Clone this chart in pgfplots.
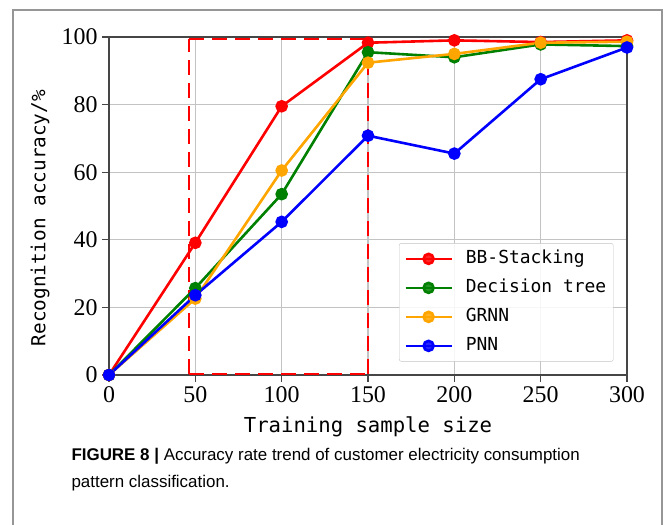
\documentclass[border=0pt]{standalone}
\usepackage{pgfplots}
\pgfplotsset{compat=1.18}
\usepackage{fontspec}
\setmainfont{Liberation Serif}
\newfontfamily\capfont{Liberation Sans}
\newfontfamily\monofont{DejaVu Sans Mono}
\definecolor{spine}{RGB}{70,70,70}
\definecolor{gridc}{RGB}{195,195,195}
\definecolor{frame}{RGB}{150,150,150}
\definecolor{mgreen}{RGB}{0,128,0}
\definecolor{morange}{RGB}{255,165,0}
\definecolor{mred}{RGB}{255,0,0}

\pgfplotstableread{
x    bb    dt    gr    pnn
0    0     0     0     0
50   39.1  25.7  22.6  23.6
100  79.5  53.5  60.5  45.3
150  98.3  95.5  92.4  70.8
200  99.0  94.0  95.0  65.5
250  98.5  97.8  98.3  87.5
300  99.0  97.3  98.6  96.9
}\acc

\begin{document}
\begin{tikzpicture}[x=1bp,y=1bp]
  % page size and outer frame
  \path[use as bounding box] (0,0) rectangle (665,525);
  \draw[frame, line width=1.2bp] (13,-5) -- (13,515) -- (662,515) -- (662,-5);
  \begin{axis}[
    at={(109bp,150bp)}, anchor=south west,
    scale only axis, width=518bp, height=338bp,
    xmin=0, xmax=300, ymin=0, ymax=100,
    xtick={0,50,...,300}, ytick={0,20,...,100},
    grid=major,
    major grid style={gridc, line width=1.1bp},
    axis line style={spine, line width=1.8bp},
    tick style={spine, line width=1.1bp},
    tick align=outside, major tick length=7bp,
    xtick pos=bottom, ytick pos=left,
    ticklabel style={font=\fontsize{24}{24}\selectfont},
    xticklabel style={yshift=-1bp},
    yticklabel style={xshift=-1bp},
    /pgf/number format/assume math mode=true,
    xlabel={\monofont\fontsize{20.7}{21}\selectfont Training sample size},
    ylabel={\monofont\fontsize{19.4}{21}\selectfont Recognition accuracy/\%},
    xlabel style={at={(axis description cs:0.5,-0.154)}, anchor=center},
    ylabel style={at={(axis description cs:-0.133,0.464)}, anchor=center},
    legend style={at={(0.56,0.39)}, anchor=north west,
      font=\monofont\fontsize{18}{22}\selectfont,
      draw=gridc, rounded corners=2bp, fill=white, fill opacity=0.85, text opacity=1,
      inner xsep=5bp, inner ysep=4bp, row sep=6bp, column sep=11bp,
      nodes={inner sep=2bp, text height=14bp, text depth=5bp}},
    legend cell align=left,
    legend image code/.code={
      \draw[mark repeat=2, mark phase=2, #1]
        plot coordinates {(0bp,0bp) (23bp,0bp) (46bp,0bp)};},
    every axis plot/.append style={line width=2.6bp, mark=*, mark size=5bp},
  ]
    % highlighted region
    \draw[mred, line width=2.2bp, dash pattern=on 15bp off 8bp]
      (axis cs:46.5,99.4) -- (axis cs:150.2,99.4);
    \draw[mred, line width=2.2bp, dash pattern=on 15bp off 8bp]
      (axis cs:46.5,0.4) -- (axis cs:150.2,0.4);
    \draw[mred, line width=2.2bp, dash pattern=on 15bp off 8bp]
      (axis cs:46.5,0.4) -- (axis cs:46.5,99.4);
    \draw[mred, line width=2.2bp, dash pattern=on 15bp off 8bp]
      (axis cs:150.2,0.4) -- (axis cs:150.2,99.4);
    \addplot[color=mred, mark options={fill=mred}] table[x=x,y=bb]{\acc};
    \addlegendentry{BB-Stacking}
    \addplot[color=mgreen, mark options={fill=mgreen}] table[x=x,y=dt]{\acc};
    \addlegendentry{Decision tree}
    \addplot[color=morange, mark options={fill=morange}] table[x=x,y=gr]{\acc};
    \addlegendentry{GRNN}
    \addplot[color=blue, mark options={fill=blue}] table[x=x,y=pnn]{\acc};
    \addlegendentry{PNN}
  \end{axis}
  % caption
  \node[anchor=base west, font=\capfont\fontsize{17}{20}\selectfont]
    at (68,64) {\textbf{FIGURE 8} \textbf{|} Accuracy rate trend of customer electricity consumption};
  \node[anchor=base west, font=\capfont\fontsize{17}{20}\selectfont]
    at (68,37) {pattern classification.};
\end{tikzpicture}
\end{document}
